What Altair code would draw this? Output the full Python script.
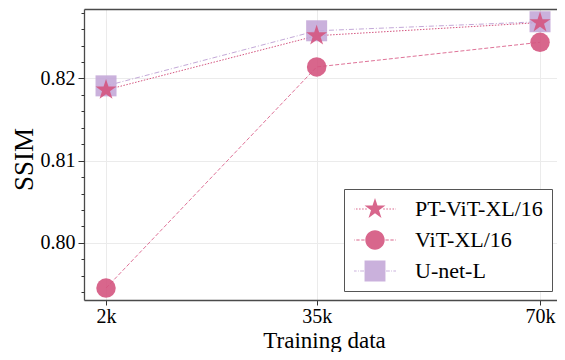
import math
import altair as alt
import pandas as pd

# ---------------- data ----------------
train_k = [2, 35, 70]
series = ["PT-ViT-XL/16", "ViT-XL/16", "U-net-L"]
pt_vit = [0.8186, 0.8252, 0.8268]
vit = [0.7945, 0.8214, 0.8244]
unet = [0.8191, 0.8258, 0.8269]
y_major = [0.80, 0.81, 0.82]
y_minor = [0.794, 0.796, 0.798, 0.800, 0.802, 0.804, 0.806, 0.808, 0.810,
           0.812, 0.814, 0.816, 0.818, 0.820, 0.822, 0.824, 0.826, 0.828]

marker_colors = ["#d4557f", "#d4557f", "#c4a9d8"]
line_colors = ["#d4557f", "#df7398", "#c4a9d8"]
line_dash = [[1.5, 1.5], [4, 2], [5, 2, 1, 2]]

rows = []
for name, vals in zip(series, [pt_vit, vit, unet]):
    for k, v in zip(train_k, vals):
        rows.append({"series": name, "k": k, "ssim": v})
df = pd.DataFrame(rows)


# ---------------- symbol paths (unit space) ----------------
def star(r_out=1.0, r_in=0.382):
    pts = []
    for i in range(10):
        ang = math.radians(-90 + 36 * i)
        r = r_out if i % 2 == 0 else r_in
        pts.append((r * math.cos(ang), r * math.sin(ang)))
    return "M" + " L".join(f"{x:.4f},{y:.4f}" for x, y in pts) + " Z"


def dashes(start, end, pattern, h=0.05):
    segs = []
    x = start
    i = 0
    while x < end:
        L = pattern[i % len(pattern)]
        if i % 2 == 0:
            x1 = min(x + L, end)
            for sgn in (1, -1):
                a, b = sorted((sgn * x, sgn * x1))
                segs.append(f"M{a:.3f},{-h} L{b:.3f},{-h} L{b:.3f},{h} L{a:.3f},{h} Z")
        x += L
        i += 1
    return " ".join(segs)


circle_u = "M-0.88,0 A0.88,0.88 0 1,1 0.88,0 A0.88,0.88 0 1,1 -0.88,0 Z"
square_u = "M-0.95,-0.95 L0.95,-0.95 L0.95,0.95 L-0.95,0.95 Z"
legend_paths = [
    star() + " " + dashes(0.75, 1.91, [0.14, 0.14]),
    circle_u + " " + dashes(0.95, 1.91, [0.3, 0.15]),
    square_u + " " + dashes(1.0, 1.91, [0.35, 0.12, 0.08, 0.12]),
]
plot_shapes = [star(), "circle", "square"]
plot_sizes = [484, 380, 441]

# ---------------- scales ----------------
xscale = alt.Scale(domain=[-1.45, 72.66], nice=False, zero=False)
yscale = alt.Scale(domain=[0.79305, 0.82845], nice=False, zero=False)

layers = []
# main axes (invisible carrier)
layers.append(
    alt.Chart(df).mark_point(opacity=0).encode(
        x=alt.X("k:Q", scale=xscale, axis=alt.Axis(
            orient="bottom", values=train_k, labelExpr="datum.value + 'k'",
            title="Training data", tickSize=5, labelPadding=1, titleFontSize=23,
            titleX=240, titleY=47, titleBaseline="alphabetic", titleAnchor="middle")),
        y=alt.Y("ssim:Q", scale=yscale, axis=alt.Axis(
            orient="left", values=y_major, format=".2f", title="SSIM", tickSize=6,
            labelPadding=3, titleFontSize=27, titleX=-52, titleY=150,
            titleBaseline="alphabetic", titleAngle=-90, titleAlign="center")),
    )
)
# minor ticks + top spine
layers.append(
    alt.Chart(df).mark_point(opacity=0).encode(
        x=alt.X("k:Q", scale=xscale, axis=alt.Axis(
            orient="top", labels=False, ticks=False, grid=False, domain=True, title=None)),
        y=alt.Y("ssim:Q", scale=yscale, axis=alt.Axis(
            orient="left", values=y_minor, labels=False, tickSize=3, grid=False,
            domain=False, title=None)),
    )
)

order = [2, 1, 0]
for i in order:
    name = series[i]
    base = alt.Chart(df).transform_filter(alt.datum.series == name)
    layers.append(
        base.mark_line(color=line_colors[i], strokeWidth=1, strokeDash=line_dash[i]).encode(
            x=alt.X("k:Q", scale=xscale, axis=None),
            y=alt.Y("ssim:Q", scale=yscale, axis=None),
        )
    )
for i in order:
    name = series[i]
    base = alt.Chart(df).transform_filter(alt.datum.series == name)
    layers.append(
        base.mark_point(filled=True, shape=plot_shapes[i], size=plot_sizes[i],
                        color=marker_colors[i], opacity=0.9, strokeWidth=0).encode(
            x=alt.X("k:Q", scale=xscale, axis=None),
            y=alt.Y("ssim:Q", scale=yscale, axis=None),
        )
    )

legend_df = pd.DataFrame({"series": series})
layers.append(
    alt.Chart(legend_df).transform_filter("false").mark_point(
        filled=True, size=484, opacity=0.9, strokeWidth=0).encode(
        color=alt.Color("series:N", scale=alt.Scale(domain=series, range=marker_colors),
                        legend=alt.Legend(title=None)),
        shape=alt.Shape("series:N", scale=alt.Scale(domain=series, range=legend_paths),
                        legend=alt.Legend(title=None)),
    )
)

chart = alt.layer(*layers).resolve_axis(x="independent", y="independent").properties(
    width=473, height=291,
    padding={"left": 76, "top": 1, "right": 0, "bottom": 52},
    autosize=alt.AutoSizeParams(type="none"),
).configure_view(stroke=None).configure_axis(
    domainColor="#4a4a4a", domainWidth=1.3, tickColor="#333333", tickWidth=1,
    labelFont="Liberation Serif", labelFontSize=20, labelColor="black",
    titleFont="Liberation Serif", titleFontWeight="normal", titleColor="black",
    gridColor="#ebebeb", gridWidth=1,
).configure_legend(
    orient="none", legendX=260, legendY=180, padding=9, cornerRadius=0,
    strokeColor="#555555", strokeWidth=1, fillColor="white",
    labelFont="Liberation Serif", labelFontSize=22, labelColor="black",
    symbolOffset=11, labelOffset=29, rowPadding=9, symbolSize=484,
    symbolStrokeWidth=0, symbolOpacity=0.9, labelLimit=400,
)

chart.save("out.html", embed_options={"renderer": "svg", "actions": False})
